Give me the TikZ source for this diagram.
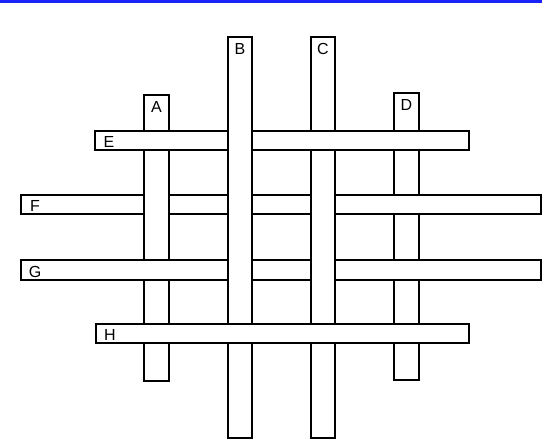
\documentclass[tikz,border=0pt]{standalone}
\usepackage{fontspec}
\setmainfont{Liberation Sans}
\usetikzlibrary{positioning}
\definecolor{topblue}{RGB}{25,35,245}

\begin{document}
\begin{tikzpicture}[x=1pt, y=-1pt,
    strip/.style={draw=black, line width=1.8pt, fill=white, rectangle,
                  inner sep=0pt, anchor=north west},
    tag/.style={font=\fontsize{16}{16}\selectfont, inner sep=0pt}]
    \useasboundingbox (0,0) rectangle (542,445);

    % Blue rule at the top
    \draw[topblue, line width=2.5pt] (0,1.25) -- (542,1.25);

    % Strips, bottom layer first
    \foreach \s/\x/\y/\w/\h in {D/393/92/25/287, F/20/194/520/19,
                                A/143/94/25/286, G/20/259/520/20,
                                C/310/36/24/401, E/94/130/374/19,
                                B/227/36/24/401, H/95/323/373/19} {
        \node[strip, minimum width=\w, minimum height=\h] (strip\s) at (\x,\y) {};
    }

    % Letters on the vertical strips
    \foreach \s in {A,B,C,D} {
        \node[tag] (lab\s) at ([yshift=-13pt]strip\s.north) {\s};
    }
    % Letters on the horizontal strips
    \foreach \s in {E,F,G,H} {
        \node[tag] (lab\s) at ([xshift=15pt, yshift=-2pt]strip\s.west) {\s};
    }
\end{tikzpicture}
\end{document}
